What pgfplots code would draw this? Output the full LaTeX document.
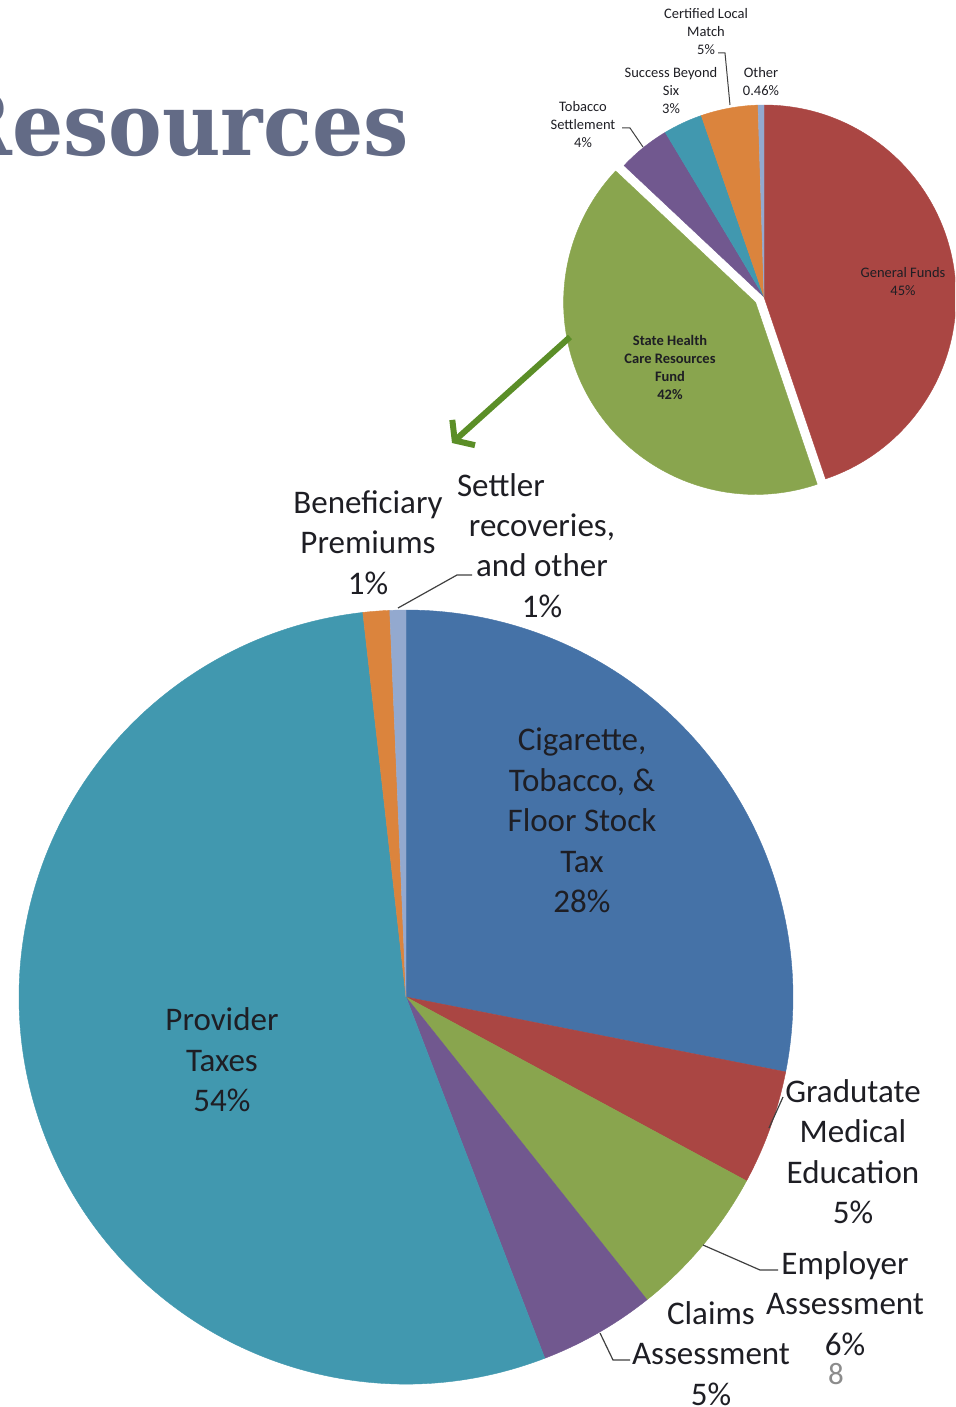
\documentclass[border=0pt]{standalone}
\usepackage{pgfplots}
\pgfplotsset{compat=1.18}
\usepackage{pgfplotstable}
\usetikzlibrary{arrows.meta}
\usepackage{fontspec}
\setmainfont{Carlito}
\newfontfamily\titlefont{DejaVu Serif}
\definecolor{cigblue}{HTML}{4572A7}
\definecolor{pred}{HTML}{AA4643}
\definecolor{pgreen}{HTML}{89A54E}
\definecolor{ppurple}{HTML}{71588F}
\definecolor{pteal}{HTML}{4198AF}
\definecolor{porange}{HTML}{DB843D}
\definecolor{plblue}{HTML}{93A9CF}
\definecolor{titlecol}{HTML}{636B86}
\definecolor{arrowgreen}{HTML}{5B8E27}
\definecolor{labcol}{HTML}{1E1E24}
\definecolor{leadcol}{HTML}{404040}

\pgfplotstableread{
value color explode
28.10 cigblue 0
4.78 pred 0
6.42 pgreen 0
4.86 ppurple 0
54.06 pteal 0
1.11 porange 0
0.67 plblue 0
}\bigpie

\pgfplotstableread{
value color explode
44.8 pred 0
42.2 pgreen 10
4.4 ppurple 0
3.3 pteal 0
4.8 porange 0
0.5 plblue 0
}\smallpie

\newcommand\drawpie[4]{%
  \pgfplotstablegetrowsof{#1}\let\nrows\pgfplotsretval
  \gdef\cum{0}%
  \pgfplotsforeachungrouped \i in {1,...,\nrows} {%
    \pgfmathtruncatemacro\row{\i-1}%
    \pgfplotstablegetelem{\row}{value}\of{#1}\let\val\pgfplotsretval
    \pgfplotstablegetelem{\row}{color}\of{#1}\let\col\pgfplotsretval
    \pgfplotstablegetelem{\row}{explode}\of{#1}\let\ex\pgfplotsretval
    \pgfmathsetmacro\sa{90-3.6*\cum}%
    \pgfmathsetmacro\ea{90-3.6*(\cum+\val)}%
    \pgfmathsetmacro\ma{(\sa+\ea)/2}%
    \edef\temp{\noexpand\fill[\col, draw=\col, line width=0.4pt, line join=round] (axis cs:#2,#3) ++(\ma:\ex pt) -- ++(\sa:#4 pt) arc[start angle=\sa, end angle=\ea, radius=#4 pt] -- cycle;}%
    \temp
    \pgfmathsetmacro\newcum{\cum+\val}\xdef\cum{\newcum}%
  }%
}

\newcommand\biglab{\fontsize{33}{40.5}\selectfont}
\newcommand\smalllab{\fontsize{14.5}{18}\selectfont}

\begin{document}
\begin{tikzpicture}
\useasboundingbox (0,0) rectangle (955pt,1407pt);
\begin{axis}[at={(0pt,0pt)}, anchor=south west, width=955pt, height=1407pt,
  scale only axis, xmin=0, xmax=955, ymin=0, ymax=1407, y dir=reverse,
  hide axis, clip=true]
\drawpie{\bigpie}{406}{997}{387}
\drawpie{\smallpie}{764}{297}{192}

% title
\node[anchor=base east, inner sep=0, text=titlecol, font=\titlefont\bfseries\fontsize{87}{87}\selectfont] at (axis cs:409,156) {\scalebox{0.925}[1]{Resources}};

% arrow
\draw[arrowgreen, line width=6pt, -{Straight Barb[length=12pt, width=34pt]}] (axis cs:570,337) -- (axis cs:452,443);

% big pie leaders
\draw[leadcol, line width=1.2pt] (axis cs:398,608) -- (axis cs:457,575) -- (axis cs:472,575);
\draw[leadcol, line width=1.2pt] (axis cs:769,1128) -- (axis cs:783,1097);
\draw[leadcol, line width=1.2pt] (axis cs:703,1245) -- (axis cs:760,1270) -- (axis cs:778,1270);
\draw[leadcol, line width=1.2pt] (axis cs:600,1333) -- (axis cs:613,1360) -- (axis cs:630,1360);

% big pie labels
\node[align=center, inner sep=0, text=labcol, font=\biglab] at (axis cs:582,820.5) {Cigarette,\\Tobacco, \&\\Floor Stock\\Tax\\28\%};
\node[align=center, inner sep=0, text=labcol, font=\biglab] at (axis cs:222,1060) {Provider\\Taxes\\54\%};
\node[align=center, inner sep=0, text=labcol, font=\biglab] at (axis cs:853,1151.5) {Gradutate\\Medical\\Education\\5\%};
\node[align=center, inner sep=0, text=labcol, font=\biglab] at (axis cs:845,1303.5) {Employer\\Assessment\\6\%};
\node[align=center, inner sep=0, text=labcol, font=\biglab] at (axis cs:711,1353.5) {Claims\\Assessment\\5\%};
\node[align=center, inner sep=0, text=labcol, font=\biglab] at (axis cs:368,542.5) {Beneficiary\\Premiums\\1\%};
\node[inner sep=0, text=labcol, font=\biglab] at (axis cs:501,485) {Settler};
\node[align=center, inner sep=0, text=labcol, font=\biglab] at (axis cs:542,565.5) {recoveries,\\and other\\1\%};

% small pie leaders
\draw[leadcol, line width=1pt] (axis cs:718,53) -- (axis cs:725,53) -- (axis cs:730,105);
\draw[leadcol, line width=1pt] (axis cs:622,128) -- (axis cs:630,128) -- (axis cs:643,147);

% small pie labels
\node[align=center, inner sep=0, text=labcol, font=\smalllab] at (axis cs:706,31.5) {Certified Local\\Match\\5\%};
\node[align=center, inner sep=0, text=labcol, font=\smalllab] at (axis cs:671,91) {Success Beyond\\Six\\3\%};
\node[align=center, inner sep=0, text=labcol, font=\smalllab] at (axis cs:761,82) {Other\\0.46\%};
\node[align=center, inner sep=0, text=labcol, font=\smalllab] at (axis cs:583,125) {Tobacco\\Settlement\\4\%};
\node[align=center, inner sep=0, text=labcol, font=\smalllab] at (axis cs:903,282) {General Funds\\45\%};
\node[align=center, inner sep=0, text=labcol, font=\smalllab\bfseries] at (axis cs:670,367.5) {State Health\\Care Resources\\Fund\\42\%};

% page number
\node[inner sep=0, text=black!45, font=\fontsize{31}{31}\selectfont] at (axis cs:836,1374) {8};
\end{axis}
\end{tikzpicture}
\end{document}
